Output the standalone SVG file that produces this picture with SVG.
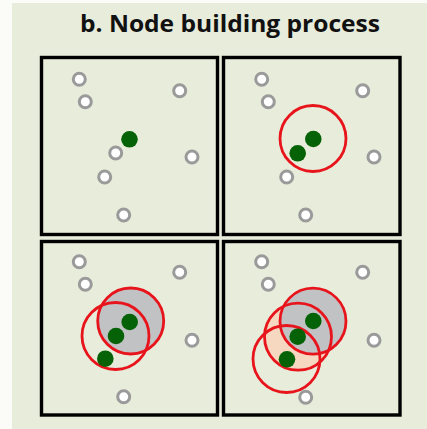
<svg xmlns="http://www.w3.org/2000/svg" width="427" height="429" viewBox="0 0 427 429">
<style>
.panel{fill:#e8ecdb;stroke:#000;stroke-width:3.4}
.g{fill:#fff;stroke:#9a9a9a;stroke-width:3}
.n{fill:#066206}
.r{fill:none;stroke:#e8141c;stroke-width:2.8}
.title{font-family:"Open Sans","Liberation Sans",sans-serif;font-weight:bold;font-size:24px;fill:#111}
</style>
<rect x="0" y="0" width="427" height="429" fill="#fbfbf8"/>
<rect x="12" y="3" width="415" height="426" fill="#e8ecdb"/>
<text class="title" x="80" y="32" textLength="300" lengthAdjust="spacingAndGlyphs">b. Node building process</text>

<g id="panel1">
<rect class="panel" x="41.5" y="57.5" width="176" height="177"/>
<circle class="g" cx="79.3" cy="79.3" r="6"/>
<circle class="g" cx="85.3" cy="101.7" r="6"/>
<circle class="g" cx="179.7" cy="90.7" r="6"/>
<circle class="g" cx="115.7" cy="153" r="6"/>
<circle class="g" cx="192" cy="157" r="6"/>
<circle class="g" cx="104.7" cy="177" r="6"/>
<circle class="g" cx="123.7" cy="215" r="6"/>
<circle class="n" cx="129.5" cy="139.3" r="8.3"/>
</g>

<g id="panel2">
<rect class="panel" x="223.5" y="57.5" width="176.5" height="177"/>
<circle class="g" cx="261.7" cy="79.3" r="6"/>
<circle class="g" cx="268.3" cy="101.7" r="6"/>
<circle class="g" cx="362.7" cy="90.7" r="6"/>
<circle class="g" cx="374" cy="157" r="6"/>
<circle class="g" cx="286.7" cy="177" r="6"/>
<circle class="g" cx="305.7" cy="215" r="6"/>
<circle class="n" cx="313.3" cy="139" r="8.3"/>
<circle class="n" cx="297.7" cy="153.3" r="8.3"/>
<circle class="r" cx="313" cy="138.5" r="33"/>
</g>

<g id="panel3">
<rect class="panel" x="41.5" y="241.5" width="176" height="173.5"/>
<circle class="g" cx="79.3" cy="261.7" r="6"/>
<circle class="g" cx="85.3" cy="284.3" r="6"/>
<circle class="g" cx="179.7" cy="272.3" r="6"/>
<circle class="g" cx="192" cy="340.3" r="6"/>
<circle class="g" cx="123.7" cy="396.7" r="6"/>
<circle cx="130.7" cy="321" r="33" fill="#c1c2c4"/>
<circle class="r" cx="130.7" cy="321" r="33"/>
<circle class="r" cx="115.5" cy="336" r="33.5"/>
<circle class="n" cx="129.7" cy="322" r="8.3"/>
<circle class="n" cx="116" cy="336" r="8.3"/>
<circle class="n" cx="105.3" cy="358.7" r="8.3"/>
</g>

<g id="panel4">
<rect class="panel" x="223.5" y="241.5" width="176.5" height="173.5"/>
<circle class="g" cx="261.7" cy="261.7" r="6"/>
<circle class="g" cx="268.3" cy="284.3" r="6"/>
<circle class="g" cx="362.7" cy="272.3" r="6"/>
<circle class="g" cx="374" cy="340.3" r="6"/>
<circle class="g" cx="305.7" cy="397.3" r="6"/>
<circle cx="298" cy="336.7" r="33.5" fill="#f6d8c0"/>
<circle cx="313" cy="321.2" r="33" fill="#c1c2c4"/>
<circle class="r" cx="298" cy="336.7" r="33.5"/>
<circle class="r" cx="313" cy="321.2" r="33"/>
<circle class="r" cx="286.5" cy="359" r="33.5"/>
<circle class="n" cx="313.3" cy="321" r="8.3"/>
<circle class="n" cx="297.7" cy="336.7" r="8.3"/>
<circle class="n" cx="287" cy="359.3" r="8.3"/>
</g>
</svg>
